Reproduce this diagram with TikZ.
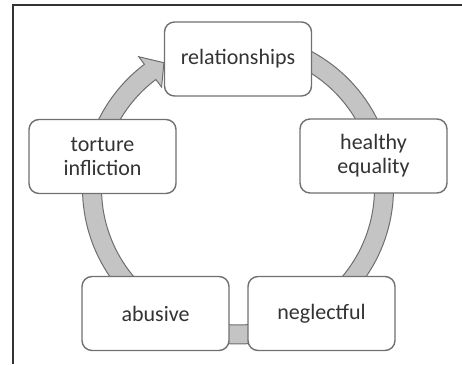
\documentclass[tikz,border=0pt]{standalone}
\usepackage{fontspec}
\setmainfont{Carlito}
\definecolor{ringfill}{HTML}{C4C4C4}
\definecolor{ringline}{HTML}{6E6E6E}
\definecolor{boxline}{HTML}{707070}
\definecolor{labeltext}{HTML}{333333}
\begin{document}
\begin{tikzpicture}[x=1pt, y=1pt,
  stage/.style={draw=boxline, line width=1.4pt, fill=white, rounded corners=10pt,
    minimum width=147pt, minimum height=74pt, inner sep=0pt, align=center,
    text=labeltext, font=\fontsize{22}{24}\selectfont},
  band/.style={fill=ringfill, draw=ringline, line width=1pt}]
\useasboundingbox (0,0) rectangle (462,364);
\draw[line width=2pt, black!80] (13,0) -- (13,359) -- (462,359);
\coordinate (hub) at (238,175.5);
% ring pieces behind the boxes
\begin{scope}[shift={(hub)}]
\foreach \a/\b in {90/13.5, 13.5/-56, -56/-123.4, 236.6/166.7}
  \draw[band] (\a:155.5) arc (\a:\b:155.5) -- (\b:136.5) arc (\b:\a:136.5) -- cycle;
\draw[band] (166.7:155.5) arc (166.7:127:155.5) -- (127:165) -- (120.5:146)
  -- (127:127) -- (127:136.5) arc (127:166.7:136.5) -- cycle;
\end{scope}
\node[stage] (rel) at (238,305) {relationships};
\node[stage] (health) at (373.5,208) {healthy\\equality};
\node[stage] (negl) at (321.5,50.5) {neglectful};
\node[stage] (abuse) at (155.5,50.5) {abusive};
\node[stage] (tort) at (102.5,207.5) {torture\\infliction};
\end{tikzpicture}
\end{document}
